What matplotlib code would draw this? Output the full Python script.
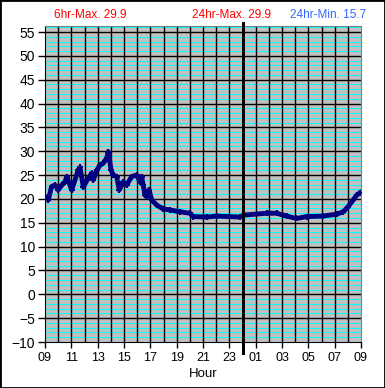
"""24 hour temperature chart, redrawn in the old spreadsheet style."""

import matplotlib.pyplot as plt
from matplotlib.patches import Rectangle
from matplotlib.transforms import blended_transform_factory

# hours since 09:00 and temperature readings (deg C)
hours = [0.0, 0.25, 0.5, 0.76, 1.0, 1.27, 1.52, 1.65, 2.03, 2.53, 2.66, 2.91,
         3.29, 3.55, 3.67, 3.93, 4.18, 4.43, 4.69, 4.81, 5.01, 5.19, 5.44,
         5.64, 5.95, 6.2, 6.58, 6.96, 7.21, 7.34, 7.46, 7.59, 7.72, 7.9, 8.1,
         8.48, 8.98, 9.49, 10.25, 11.0, 11.26, 12.28, 13.04, 14.8, 15.06,
         16.83, 17.59, 18.35, 19.1, 19.87, 21.1, 22.15, 22.65, 23.03, 23.41,
         23.67, 23.92]
temps = [20.5, 19.8, 22.6, 22.9, 21.9, 22.9, 23.6, 24.7, 21.9, 26.1, 26.6, 22.5,
         24.4, 25.4, 24.0, 26.0, 27.1, 27.5, 28.6, 29.9, 26.1, 25.0, 24.7,
         21.9, 23.6, 22.9, 24.7, 25.0, 23.6, 24.7, 22.9, 20.8, 20.5, 21.9, 19.8,
         18.7, 17.9, 17.7, 17.3, 17.0, 16.3, 16.2, 16.4, 16.2, 16.6,
         17.0, 17.0, 16.4, 15.9, 16.3, 16.4, 16.8, 17.3, 18.4, 19.8,
         20.8, 21.3]

x_labels = ['09', '11', '13', '15', '17', '19', '21', '23',
            '01', '03', '05', '07', '09']
stats = [('6hr-Max. 29.9', '#ff0000'),
         ('24hr-Max. 29.9', '#ff0000'),
         ('24hr-Min. 15.7', '#3366ff')]

plt.rcParams['font.family'] = ['Liberation Sans', 'DejaVu Sans']

PX = 0.72  # one pixel in points at dpi 100

fig = plt.figure(figsize=(3.85, 3.88), dpi=100)
ax = fig.add_axes([45 / 385, 1 - 342 / 388, 316 / 385, 316 / 388])
ax.set_facecolor('#c0c0c0')

# grid: cyan every degree, black every 5 degrees and every hour
for v in range(-10, 57):
    if v % 5:
        ax.axhline(v, color='#00ffff', lw=PX, antialiased=False, zorder=1)
for v in range(-5, 56, 5):
    ax.axhline(v, color='black', lw=1.0, zorder=2)
for h in range(1, 24):
    ax.axvline(h, color='black', lw=1.0, zorder=2)

ax.plot(hours, temps, color='#000080', lw=3.5, marker='+', ms=5,
        mew=1.5, zorder=4)

# thick midnight line reaching past the plot area
trans = blended_transform_factory(ax.transData, ax.transAxes)
ax.plot([15, 15], [-0.035, 1.008], color='black', lw=3 * PX, transform=trans,
        clip_on=False, antialiased=False, zorder=5)

ax.set_xlim(0, 24)
ax.set_ylim(-10, 56.26)
ax.set_xticks(range(0, 25, 2))
ax.set_xticklabels(x_labels)
ax.set_yticks(range(-10, 56, 5))
ax.tick_params(axis='x', direction='out', length=4, width=1, labelsize=9,
               pad=3)
ax.tick_params(axis='y', direction='out', length=5, width=1, labelsize=10,
               pad=2)
for side in ('top', 'right'):
    ax.spines[side].set_color('#808080')
for side in ('left', 'bottom'):
    ax.spines[side].set_color('black')
ax.set_xlabel('Hour', fontsize=9.5, labelpad=3)

for (txt, col), x in zip(stats, [54, 192, 290]):
    fig.text(x / 385, 1 - 15 / 388, txt, color=col, fontsize=8.5,
             va='center', ha='left')

fig.patches.append(Rectangle((0, 0), 1, 1, transform=fig.transFigure,
                             fill=False, edgecolor='black', lw=2))

fig.savefig('out.png', dpi=100)
